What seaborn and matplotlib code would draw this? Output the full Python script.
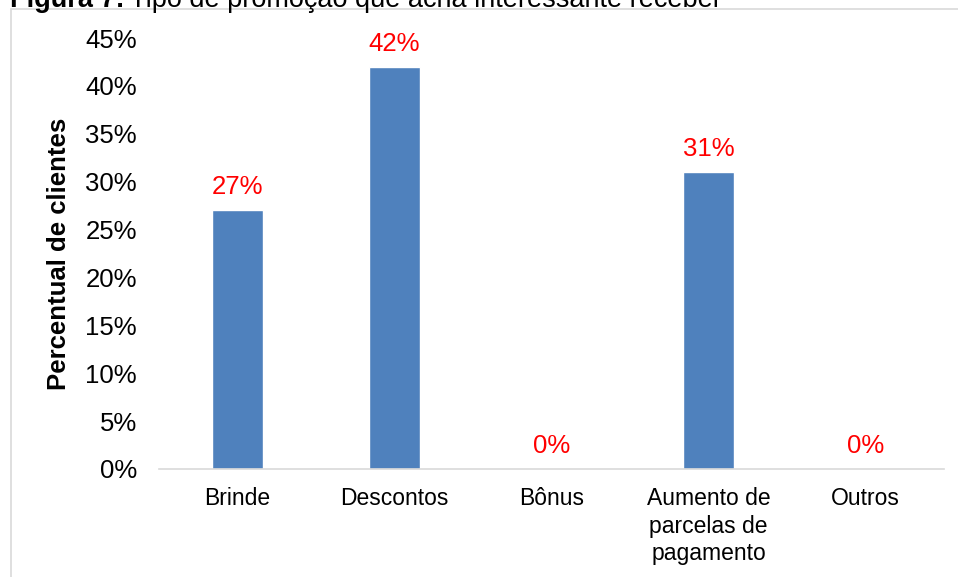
import matplotlib
matplotlib.use("Agg")
import matplotlib.pyplot as plt
import matplotlib.patches as mpatches
from matplotlib.ticker import FuncFormatter
import seaborn as sns
import pandas as pd

categorias = ["Brinde", "Descontos", "Bônus", "Aumento de\nparcelas de\npagamento", "Outros"]
percentuais = [27, 42, 0, 31, 0]
yticks = [0, 5, 10, 15, 20, 25, 30, 35, 40, 45]

sns.set_theme(style="white")
plt.rcParams["font.family"] = ["Liberation Sans", "DejaVu Sans"]

df = pd.DataFrame({"categoria": categorias, "percentual": percentuais})

fig = plt.figure(figsize=(9.58, 5.77), dpi=100)
ax = fig.add_axes([159 / 958, 1 - 469 / 577, 785 / 958, 431 / 577])

sns.barplot(data=df, x="categoria", y="percentual", color="#4F81BD",
            saturation=1, width=0.32, ax=ax)

ax.set_ylim(0, 45)
ax.set_yticks(yticks)
ax.yaxis.set_major_formatter(FuncFormatter(lambda v, _: f"{v:.0f}%"))
ax.tick_params(axis="y", length=0, pad=16, labelsize=18.5, labelcolor="black")
ax.tick_params(axis="x", length=0, pad=13, labelsize=16.5, labelcolor="black")
for lab in ax.get_xticklabels():
    lab.set_linespacing(1.25)
    lab.set_verticalalignment("top")

ax.set_xlabel("")
ax.set_ylabel("Percentual de clientes", fontsize=18.5, fontweight="bold",
              labelpad=10, color="black")

for s in ["top", "right", "left"]:
    ax.spines[s].set_visible(False)
ax.spines["bottom"].set_color("#d9d9d9")
ax.spines["bottom"].set_linewidth(1.2)

for i, v in enumerate(percentuais):
    ax.annotate(f"{v}%", xy=(i, v), xytext=(0, 8), textcoords="offset points",
                ha="center", va="bottom", color="red", fontsize=18.5)

# outer frame around the chart area
frame = mpatches.Rectangle((11 / 958, -0.05), 1.2, 1 - 9 / 577 + 0.05,
                           transform=fig.transFigure, fill=False,
                           edgecolor="#d9d9d9", linewidth=1.2)
fig.patches.append(frame)

# figure caption: bold prefix followed by regular text
y_cap = 1 - 7 / 577
t1 = fig.text(10 / 958, y_cap, "Figura 7:", fontsize=19.5, fontweight="bold",
              va="baseline", ha="left", color="black")
fig.canvas.draw()
bb = t1.get_window_extent()
fig.text((bb.x1 + 5) / 958, y_cap, "Tipo de promoção que acha interessante receber",
         fontsize=19.5, va="baseline", ha="left", color="black")

fig.savefig("out.png", dpi=100)
